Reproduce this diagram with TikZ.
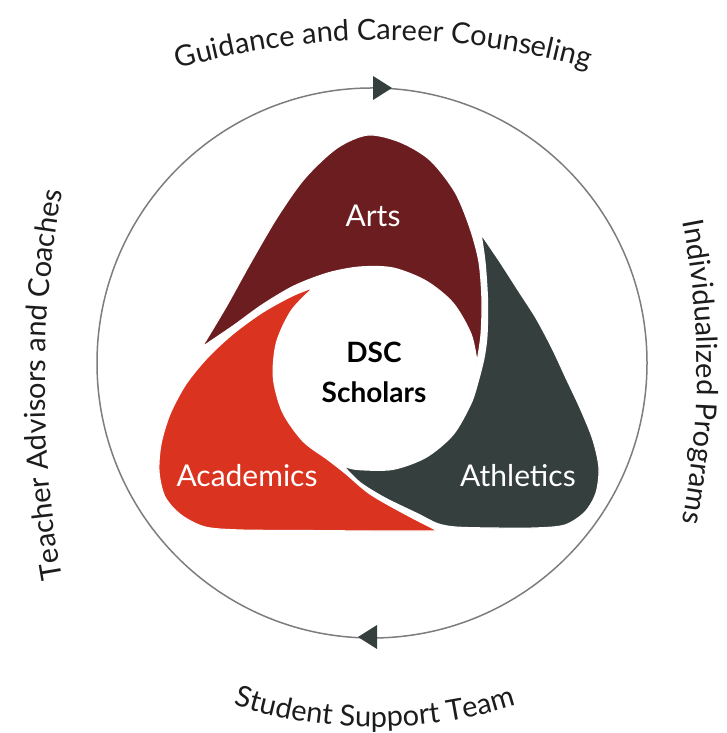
\documentclass[tikz,border=0pt]{standalone}
\usepackage{fontspec}
\setmainfont{Lato}
\usetikzlibrary{decorations.text}
\definecolor{artsc}{RGB}{108,29,31}
\definecolor{acadc}{RGB}{218,52,32}
\definecolor{athc}{RGB}{53,63,61}
\definecolor{ringc}{RGB}{125,125,125}
\definecolor{labelc}{RGB}{28,28,28}
\newcommand\ringfont{\fontsize{29}{34}\selectfont}
\begin{document}
\begin{tikzpicture}[x=1pt,y=1pt,
  blob/.style={draw=white, line width=1.2pt, line join=round},
  seglabel/.style={text=white, font=\fontsize{30}{36}\selectfont, anchor=base, inner sep=0pt},
  centerlabel/.style={text=black, font=\bfseries\fontsize{28}{34}\selectfont, anchor=base, inner sep=0pt},
  ringtext/.style={decorate, decoration={text along path, text align=center, text={|\ringfont\color{labelc}|#1}}}
]
\useasboundingbox (0,0) rectangle (726,733);

% curved outer labels
\path[ringtext={Guidance and Career Counseling}] (383,-57) ++(112:750) arc[start angle=112, end angle=68, radius=750];
\path[ringtext={Student Support Team}] (375,471) ++(245:465) arc[start angle=245, end angle=295, radius=465];
\path[ringtext={Teacher Advisors and Coaches}] (1145,348) ++(193:1100) arc[start angle=193, end angle=167, radius=1100];
\path[ringtext={Individualized Programs}] (-103,361) ++(14:800) arc[start angle=14, end angle=-14, radius=800];

\begin{scope}[shift={(0,733)}, yscale=-1]
  % ring and arrows
  \draw[ringc, line width=1.5pt] (372,363) circle[radius=275];
  \fill[athc] (392,88) -- (373,76) -- (373,100) -- cycle;
  \fill[athc] (358,637) -- (377,625) -- (377,649) -- cycle;

  % Arts
  \filldraw[blob, fill=artsc] plot[smooth] coordinates {(202,347) (226,307) (251,262) (278,216) (305,178) (337,148) (368,135) (400,142) (430,160) (455,192) (470,228) (479,262) (482,300) (481,335) (477,362)}
    -- plot[smooth] coordinates {(477,362) (471,334) (453,303) (426,281) (393,268) (360,267) (328,273) (294,286) (262,305) (233,326) (202,347)} -- cycle;

  % Academics
  \filldraw[blob, fill=acadc] plot[smooth] coordinates {(313.6,287.4) (292,296) (263,312) (234,333) (208,357) (186,384) (170,414) (161,444) (159,472) (165,497) (181,515) (205,527) (240,530) (300,530.5) (370,531) (438,531)}
    -- plot[smooth] coordinates {(438,531) (405,514) (370,494) (345,473) (327.1,459.1) (302.9,441.1) (282.6,412.1) (273.4,377.9) (276.5,342.6) (291.4,310.5) (313.6,287.4)} -- cycle;

  % Athletics
  \filldraw[blob, fill=athc] plot[smooth] coordinates {(481,234) (500,262) (518,290) (536,318) (552,348) (566,378) (581,410) (593,440) (599,468) (596,493) (585,512) (565,525) (535,528) (490,528) (455,527) (437,523.5) (418,514) (385,498) (360,482.5) (343.5,466)}
    -- plot[smooth] coordinates {(343.5,466) (357.3,469.5) (392.7,469.4) (426,457.3) (453.1,434.6) (470.8,403.9) (478,382) (484,358) (487,335) (487.5,300) (485,262) (481,234)} -- cycle;

  % labels
  \node[seglabel] (arts) at (373,227) {Arts};
  \node[seglabel] (academics) at (247,487) {Academics};
  \node[seglabel] (athletics) at (518,487) {Athletics};
  \node[centerlabel] (dsc) at (374,363) {DSC};
  \node[centerlabel] (scholars) at (374,403) {Scholars};
\end{scope}
\end{tikzpicture}
\end{document}
